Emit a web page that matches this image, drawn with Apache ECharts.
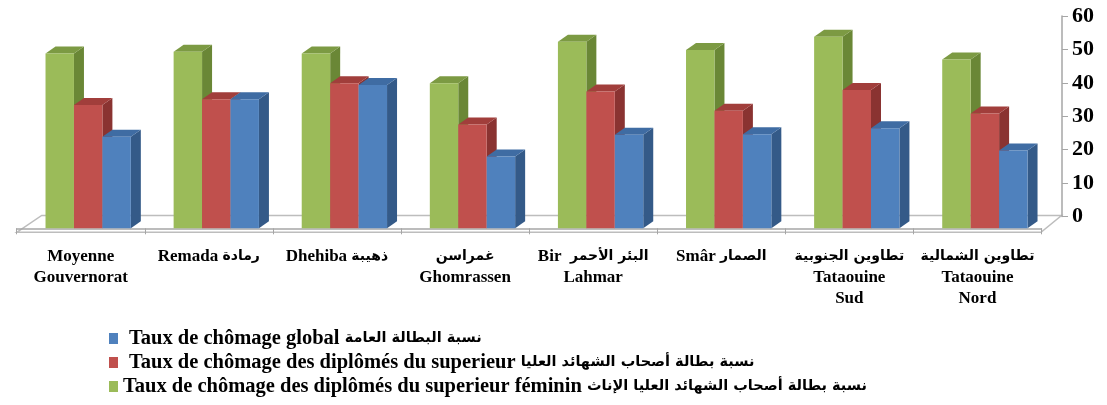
<!DOCTYPE html>
<html>
<head>
<meta charset="utf-8">
<title>Taux de chômage - Tataouine</title>
<script src="https://cdn.jsdelivr.net/npm/echarts@6/dist/echarts.min.js"></script>
<style>
    html, body { margin: 0; padding: 0; background: #ffffff; }
    #chart { width: 1107px; height: 405px; }
</style>
</head>
<body>
<div id="chart"></div>
<script>
    // delegations (left to right)
    var categories = [
        'Moyenne\nGouvernorat',
        'Remada رمادة',
        'Dhehiba ذهيبة',
        'غمراسن\nGhomrassen',
        'Bir  البئر الأحمر\nLahmar',
        'Smâr الصمار',
        'تطاوين الجنوبية\nTataouine\nSud',
        'تطاوين الشمالية\nTataouine\nNord'
    ];

    // values (%)
    var femaleGradRate = [52.2, 52.7, 52.2, 43.3, 55.7, 53.2, 57.2, 50.4];
    var gradRate = [36.8, 38.5, 43.3, 31.0, 40.8, 35.1, 41.3, 34.3];
    var globalRate = [27.3, 38.5, 42.8, 21.4, 27.9, 28.1, 29.9, 23.2];

    var yMin = 0, yMax = 60, yStep = 10;

    var nameGlobal = 'Taux de chômage global نسبة البطالة العامة';
    var nameGrad = 'Taux de chômage des diplômés du superieur نسبة بطالة أصحاب الشهائد العليا';
    var nameFemale = 'Taux de chômage des diplômés du superieur féminin نسبة بطالة أصحاب الشهائد العليا الإناث';

    var font = '"Liberation Serif", "Times New Roman", serif';
    var arFont = '"DejaVu Sans", sans-serif';

    // front / side / top colors of the 3d columns
    var palette = [
        { front: '#9bbb59', side: '#6a8736', top: '#7c9a43' },
        { front: '#c0504d', side: '#8a3331', top: '#a13e3b' },
        { front: '#4f81bd', side: '#345a88', top: '#3f6ca3' }
    ];

    var DX = 10, DY = -7;

    // split latin / arabic runs so the arabic can use a smaller size
    function richWrap(text) {
        return text.split('\n').map(function (line) {
            return line.replace(/([\u0600-\u06FF][\u0600-\u06FF ]*[\u0600-\u06FF]|[\u0600-\u06FF])|([^\u0600-\u06FF]+)/g, function (m, ar, lat) {
                return ar ? '{ar|' + ar + '}' : '{lat|' + lat + '}';
            });
        }).join('\n');
    }

    function columnRenderer(k) {
        return function (params, api) {
            var idx = api.value(0);
            var base = api.coord([idx, 0]);
            var top = api.coord([idx, api.value(1)]);
            var catW = api.size([1, 0])[0];
            var bw = catW * 0.222;
            var x0 = base[0] + catW * 0.058 - 1.5 * bw + k * bw;
            var c = palette[k];
            return {
                type: 'group',
                children: [
                    {
                        type: 'polygon',
                        shape: { points: [[x0 + bw, top[1]], [x0 + bw + DX, top[1] + DY], [x0 + bw + DX, base[1] + DY], [x0 + bw, base[1]]] },
                        style: { fill: c.side }
                    },
                    {
                        type: 'polygon',
                        shape: { points: [[x0, top[1]], [x0 + DX, top[1] + DY], [x0 + bw + DX, top[1] + DY], [x0 + bw, top[1]]] },
                        style: { fill: c.top }
                    },
                    {
                        type: 'rect',
                        shape: { x: x0, y: top[1], width: bw, height: base[1] - top[1] },
                        style: { fill: c.front }
                    }
                ]
            };
        };
    }

    function pairs(arr) {
        return arr.map(function (v, i) { return [i, v]; });
    }

    var chart = echarts.init(document.getElementById('chart'));

    var options = {
        animation: false,
        backgroundColor: '#ffffff',
        grid: [
            // front plane: columns and category labels
            { left: 16.7, right: 65.5, top: 27.3, bottom: 176.7 },
            // back wall: value axis
            { left: 41.7, right: 45, top: 16, bottom: 188.5 }
        ],
        graphic: [
            {
                type: 'polygon',
                z: -1,
                shape: { points: [[16.7, 232.3], [41.7, 215.5], [1061.5, 215.5], [1041, 232.3]] },
                style: { fill: '#ffffff', stroke: '#bdbdbd', lineWidth: 1.5 }
            }
        ],
        legend: {
            orient: 'vertical',
            left: 104,
            top: 323,
            itemGap: 3,
            itemWidth: 9,
            itemHeight: 11,
            icon: 'rect',
            data: [
                { name: nameGlobal, textStyle: { padding: [0, 0, 0, 6] } },
                { name: nameGrad, textStyle: { padding: [0, 0, 0, 6] } },
                { name: nameFemale, textStyle: { padding: [0, 0, 0, 0] } }
            ],
            formatter: function (name) { return richWrap(name); },
            textStyle: {
                color: '#000000',
                rich: {
                    lat: { fontFamily: font, fontWeight: 'bold', fontSize: 20.5, lineHeight: 21, color: '#000000' },
                    ar: { fontFamily: arFont, fontWeight: 'bold', fontSize: 14.5, lineHeight: 21, color: '#000000' }
                }
            }
        },
        xAxis: [
            {
                type: 'category',
                gridIndex: 0,
                data: categories,
                offset: 4,
                axisLine: { lineStyle: { color: '#a6a6a6', width: 1.5 } },
                axisTick: { show: true, length: 6, lineStyle: { color: '#a6a6a6' } },
                axisLabel: {
                    interval: 0,
                    margin: 14,
                    color: '#000000',
                    formatter: function (v) { return richWrap(v); },
                    rich: {
                        lat: { fontFamily: font, fontWeight: 'bold', fontSize: 17, lineHeight: 21, color: '#000000' },
                        ar: { fontFamily: arFont, fontWeight: 'bold', fontSize: 14, lineHeight: 21, color: '#000000' }
                    }
                }
            },
            {
                type: 'category',
                gridIndex: 1,
                data: categories,
                show: false
            }
        ],
        yAxis: [
            {
                type: 'value',
                gridIndex: 0,
                min: yMin,
                max: yMax,
                interval: yStep,
                show: false
            },
            {
                type: 'value',
                gridIndex: 1,
                position: 'right',
                min: yMin,
                max: yMax,
                interval: yStep,
                splitLine: { show: false },
                axisLine: { show: true, lineStyle: { color: '#a6a6a6', width: 1.5 } },
                axisTick: { show: true, length: 6, lineStyle: { color: '#a6a6a6' } },
                axisLabel: {
                    margin: 10,
                    fontFamily: font,
                    fontWeight: 'bold',
                    fontSize: 22,
                    color: '#000000'
                }
            }
        ],
        series: [
            {
                name: nameFemale,
                type: 'custom',
                xAxisIndex: 0,
                yAxisIndex: 0,
                itemStyle: { color: palette[0].front },
                renderItem: columnRenderer(0),
                encode: { x: 0, y: 1 },
                data: pairs(femaleGradRate)
            },
            {
                name: nameGrad,
                type: 'custom',
                xAxisIndex: 0,
                yAxisIndex: 0,
                itemStyle: { color: palette[1].front },
                renderItem: columnRenderer(1),
                encode: { x: 0, y: 1 },
                data: pairs(gradRate)
            },
            {
                name: nameGlobal,
                type: 'custom',
                xAxisIndex: 0,
                yAxisIndex: 0,
                itemStyle: { color: palette[2].front },
                renderItem: columnRenderer(2),
                encode: { x: 0, y: 1 },
                data: pairs(globalRate)
            }
        ]
    };

    chart.setOption(options);
</script>
</body>
</html>
